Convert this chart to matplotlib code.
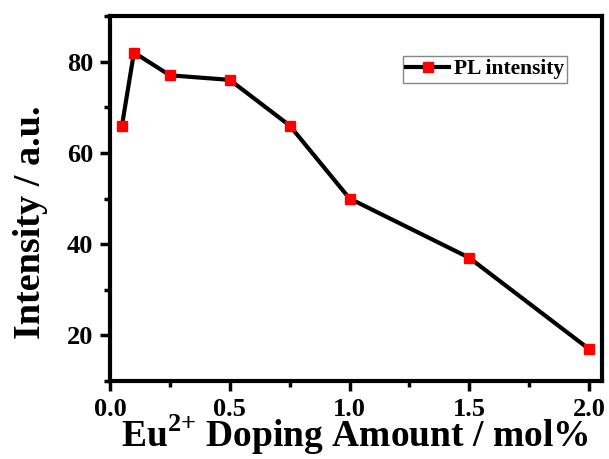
import matplotlib.pyplot as plt
import numpy as np
from matplotlib.ticker import MultipleLocator

plt.rcParams['font.family'] = 'Liberation Serif'
plt.rcParams['font.weight'] = 'bold'
plt.rcParams['mathtext.fontset'] = 'custom'
plt.rcParams['mathtext.rm'] = 'Liberation Serif:bold'
plt.rcParams['mathtext.bf'] = 'Liberation Serif:bold'

# doping amount (mol%) and PL intensity
doping = [0.05, 0.1, 0.25, 0.5, 0.75, 1.0, 1.5, 2.0]
intensity = [66, 82, 77, 76, 66, 50, 37, 17]

fig = plt.figure(figsize=(6.09, 4.59), dpi=100)
ax = fig.add_axes([110 / 609, 1 - 381 / 459, 492 / 609, 365 / 459])

ax.plot(doping, intensity, color='black', linewidth=3, marker='s',
        markersize=6.5, markerfacecolor='red', markeredgecolor='red',
        label='PL intensity')

ax.set_xlim(0, 2.054)
ax.set_ylim(10, 90)
ax.xaxis.set_major_locator(MultipleLocator(0.5))
ax.xaxis.set_minor_locator(MultipleLocator(0.25))
ax.yaxis.set_major_locator(MultipleLocator(20))
ax.yaxis.set_minor_locator(MultipleLocator(10))
ax.tick_params(which='both', direction='out', width=2.5, labelsize=19, pad=5)
ax.tick_params(which='major', length=7)
ax.tick_params(which='minor', length=4)
for s in ax.spines.values():
    s.set_linewidth(3)

ax.set_xlabel(r'Eu$^{\text{2+}}$ Doping Amount / mol%', fontsize=27, fontweight='bold', va='baseline')
ax.xaxis.set_label_coords(0.498, -0.181)
ax.set_ylabel('Intensity / a.u.', fontsize=27.5, fontweight='bold', va='baseline')
ax.yaxis.set_label_coords(-0.142, 0.436)

leg = ax.legend(loc='upper right', bbox_to_anchor=(0.929, 0.89), fontsize=15.5,
                fancybox=False, framealpha=1, handlelength=2.0,
                borderpad=0.15, borderaxespad=0, handletextpad=0.2)
leg.get_frame().set_edgecolor('#888888')
leg.get_frame().set_linewidth(1)

fig.savefig('out.png', dpi=100)
